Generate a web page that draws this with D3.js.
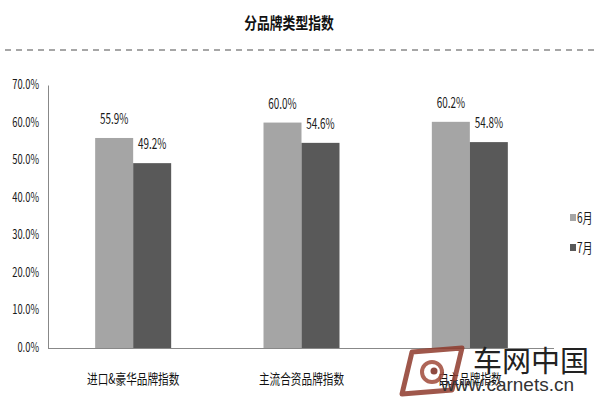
<!DOCTYPE html>
<html><head><meta charset="utf-8">
<script src="https://cdn.jsdelivr.net/npm/d3@7"></script>
<style>body{margin:0;background:#fff}</style>
</head><body>
<svg id="c" width="600" height="400"></svg>
<script>
const categories = ["进口&豪华品牌指数", "主流合资品牌指数", "自主品牌指数"];
const seriesNames = ["6月", "7月"];
const june = [55.9, 60.0, 60.2];
const july = [49.2, 54.6, 54.8];
const yTicks = [0, 10, 20, 30, 40, 50, 60, 70];
const colors = ["#a5a5a5", "#595959"];
const title = "分品牌类型指数";

const svg = d3.select("#c");
const font = "'Noto Sans CJK SC',sans-serif";

function sText(parent, x, y, str, size, sx, anchor, opts = {}) {
  return parent.append("text")
    .attr("transform", `translate(${x},${y}) scale(${sx},1)`)
    .attr("text-anchor", anchor || "start")
    .attr("font-family", opts.family || font)
    .attr("font-size", size)
    .attr("font-weight", opts.weight || "normal")
    .attr("fill", opts.fill || "#1a1a1a")
    .text(str);
}

sText(svg, 289, 29, title, 16, 0.8, "middle", { weight: "bold", fill: "#111" });
svg.append("line").attr("x1", 5).attr("x2", 596).attr("y1", 50).attr("y2", 50)
  .attr("stroke", "#a6a6a6").attr("stroke-width", 2).attr("stroke-dasharray", "6,5");

const x = d3.scaleBand().domain(categories).range([49, 554]);
const y = d3.scaleLinear().domain([0, 70]).range([348, 85]);
const xs = d3.scaleBand().domain(seriesNames).range([0, 76]);

const yAxis = svg.append("g").attr("transform", "translate(48,0)")
  .call(d3.axisLeft(y).tickValues(yTicks).tickSize(0).tickFormat(""));
yAxis.select(".domain").attr("stroke", "#888");
yTicks.forEach(t => sText(svg, 39, y(t) + 4, t.toFixed(1) + "%", 13, 0.72, "end"));

const xAxis = svg.append("g").attr("transform", "translate(0,348)")
  .call(d3.axisBottom(x).tickSize(0).tickFormat(""));
xAxis.select(".domain").attr("stroke", "#888").attr("d", "M48,0.5H554");
categories.forEach(c => sText(svg, x(c) + x.bandwidth() / 2, 384, c, 14, 0.76, "middle", { fill: "#111" }));

const data = [june, july];
data.forEach((vals, si) => {
  const g = svg.append("g");
  categories.forEach((c, i) => {
    const bx = x(c) + x.bandwidth() / 2 - 38 + xs(seriesNames[si]);
    g.append("rect").attr("x", bx).attr("y", y(vals[i])).attr("width", xs.bandwidth())
      .attr("height", y(0) - y(vals[i])).attr("fill", colors[si]);
    sText(g, bx + xs.bandwidth() / 2, y(vals[i]) - 14, vals[i].toFixed(1) + "%", 15, 0.66, "middle");
  });
});

const leg = svg.append("g");
seriesNames.forEach((s, i) => {
  leg.append("rect").attr("x", 570).attr("y", 214 + i * 30).attr("width", 6).attr("height", 7).attr("fill", colors[i]);
  sText(leg, 577, 223 + i * 30, s, 14, 0.72, "start");
});

// watermark (logo + text)
const wm = svg.append("g");
wm.append("path")
  .attr("d", "M412,352 L462,348 L452,390 L402,394 Z")
  .attr("fill", "none").attr("stroke", "#8e3a2c").attr("stroke-width", 5).attr("stroke-linejoin", "round").attr("opacity", 0.85);
wm.append("circle").attr("cx", 432).attr("cy", 372).attr("r", 10)
  .attr("fill", "none").attr("stroke", "#a04a3a").attr("stroke-width", 4).attr("opacity", 0.85);
wm.append("circle").attr("cx", 434).attr("cy", 371).attr("r", 3.5).attr("fill", "#7a2a1e").attr("opacity", 0.85);
sText(wm, 473, 372, "车网中国", 29, 1, "start", { fill: "#222" });
sText(wm, 441, 391, "www.carnets.cn", 19, 1, "start", { family: "'Liberation Sans',sans-serif", fill: "#333" });
</script>
</body></html>
